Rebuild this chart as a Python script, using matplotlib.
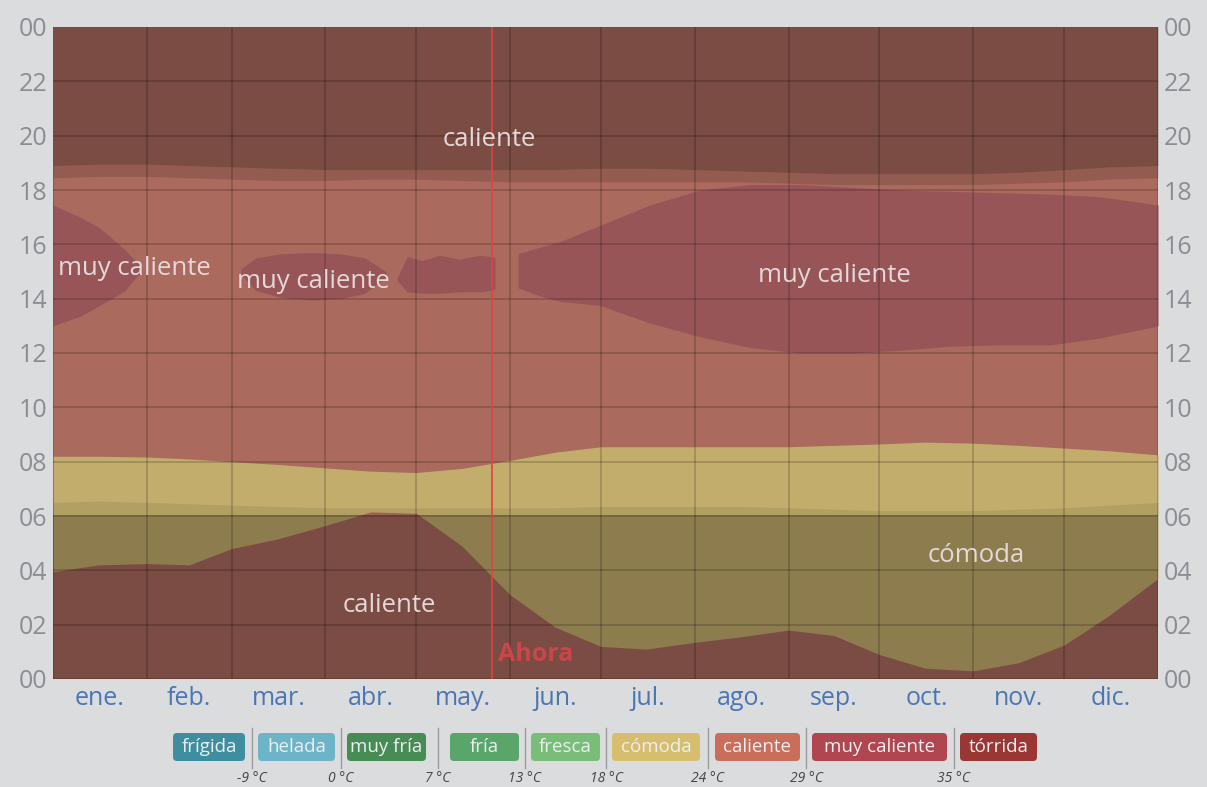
import matplotlib
matplotlib.use('Agg')
import matplotlib.pyplot as plt
from matplotlib.patches import FancyBboxPatch

plt.rcParams['font.family'] = ['Open Sans', 'DejaVu Sans']

###############################################################################################
# datos

months = ['ene.', 'feb.', 'mar.', 'abr.', 'may.', 'jun.', 'jul.', 'ago.', 'sep.', 'oct.', 'nov.', 'dic.']
month_start = [0, 31, 59, 90, 120, 151, 181, 212, 243, 273, 304, 334, 365]

# dias del año donde se leyeron los limites
band_days = [0, 15, 31, 45, 59, 74, 90, 105, 120, 135, 151, 166, 181, 196, 212, 227,
             243, 258, 273, 288, 304, 319, 334, 349, 365]

# limite caliente (madrugada) / comoda
comoda_low = [3.95, 4.2, 4.25, 4.2, 4.8, 5.15, 5.65, 6.15, 6.1, 4.9, 3.1, 1.9, 1.2, 1.1,
              1.35, 1.55, 1.8, 1.6, 0.9, 0.4, 0.3, 0.6, 1.25, 2.35, 3.7]
# limite comoda / caliente (mañana)
comoda_high = [8.2, 8.2, 8.17, 8.1, 8.0, 7.9, 7.77, 7.65, 7.6, 7.75, 8.05, 8.35, 8.55, 8.55,
               8.55, 8.55, 8.55, 8.6, 8.65, 8.72, 8.68, 8.6, 8.5, 8.4, 8.25]

# noche / crepusculo
night_end = [6.05] * 25
dawn_end = [6.5, 6.55, 6.5, 6.45, 6.4, 6.35, 6.3, 6.3, 6.3, 6.3, 6.3, 6.3, 6.35, 6.35,
            6.35, 6.35, 6.3, 6.25, 6.2, 6.2, 6.2, 6.25, 6.3, 6.4, 6.5]
dusk_start = [18.45, 18.5, 18.5, 18.45, 18.4, 18.35, 18.35, 18.4, 18.4, 18.35, 18.3, 18.3,
              18.3, 18.3, 18.3, 18.3, 18.25, 18.2, 18.2, 18.2, 18.2, 18.25, 18.3, 18.4, 18.45]
night_start = [18.9, 18.95, 18.95, 18.9, 18.85, 18.8, 18.75, 18.75, 18.75, 18.75, 18.75,
               18.75, 18.8, 18.8, 18.75, 18.7, 18.65, 18.6, 18.6, 18.6, 18.6, 18.65, 18.75,
               18.85, 18.9]

# zonas "muy caliente"
muy1_days = [0, 9, 15.5, 23.8, 29.4]
muy1_low = [13.0, 13.35, 13.75, 14.3, 15.05]
muy1_high = [17.45, 17.0, 16.6, 15.8, 15.15]

muy2_days = [62, 67, 75, 85, 95, 103, 110]
muy2_low = [14.9, 14.3, 14.05, 13.95, 14.0, 14.2, 14.8]
muy2_high = [15.1, 15.5, 15.65, 15.7, 15.65, 15.5, 15.0]

muy3_days = [113.6, 117, 122, 127.8, 134, 141, 144.4, 146]
muy3_low = [14.68, 14.25, 14.2, 14.2, 14.25, 14.25, 14.3, 14.35]
muy3_high = [14.75, 15.55, 15.4, 15.6, 15.45, 15.6, 15.55, 15.5]

muy4_days = [153.6, 160.9, 167.5, 180.7, 197.2, 213.7, 230.3, 246.8, 263.3, 279.8, 296.3,
             312.8, 329.4, 345.9, 365]
muy4_low = [14.4, 14.1, 13.9, 13.75, 13.1, 12.6, 12.2, 12.0, 12.0, 12.1, 12.25, 12.3,
            12.3, 12.55, 13.0]
muy4_high = [15.65, 15.9, 16.1, 16.7, 17.45, 18.0, 18.2, 18.2, 18.1, 18.0, 17.95, 17.9,
             17.85, 17.75, 17.45]

now_day = 145

region_labels = [
    ('caliente', 144, 19.85),
    ('muy caliente', 27, 15.1),
    ('muy caliente', 86, 14.65),
    ('muy caliente', 258, 14.85),
    ('cómoda', 305, 4.55),
    ('caliente', 111, 2.7),
]

legend_names = ['frígida', 'helada', 'muy fría', 'fría', 'fresca', 'cómoda', 'caliente',
                'muy caliente', 'tórrida']
legend_colors = ['#3E8EA0', '#6EB4C8', '#488C55', '#5AA569', '#78BE78', '#D7BE6E',
                 '#C86E5A', '#AF4650', '#9B3732']
thresholds = ['-9 °C', '0 °C', '7 °C', '13 °C', '18 °C', '24 °C', '29 °C', '35 °C']

###############################################################################################

C_CALIENTE = '#AA6A5D'
C_MUY = '#985558'
C_COMODA = '#C2AD6D'

W, H = 1207, 787
fig = plt.figure(figsize=(W / 100, H / 100), dpi=100, facecolor='#DADCDE')
ax = fig.add_axes([53 / W, 1 - 679 / H, (1158 - 53) / W, (679 - 27) / H])
ax.set_facecolor(C_CALIENTE)
ax.set_xlim(0, 365)
ax.set_ylim(0, 24)

ax.fill_between(band_days, comoda_low, comoda_high, color=C_COMODA, lw=0)
for d, lo, hi in [(muy1_days, muy1_low, muy1_high), (muy2_days, muy2_low, muy2_high),
                  (muy3_days, muy3_low, muy3_high), (muy4_days, muy4_low, muy4_high)]:
    ax.fill_between(d, lo, hi, color=C_MUY, lw=0)

# sombra de noche y crepusculo
ax.fill_between(band_days, 0, night_end, color='black', alpha=0.28, lw=0)
ax.fill_between(band_days, night_end, dawn_end, color='black', alpha=0.08, lw=0)
ax.fill_between(band_days, dusk_start, night_start, color='black', alpha=0.13, lw=0)
ax.fill_between(band_days, night_start, 24, color='black', alpha=0.28, lw=0)

ax.axvline(now_day, color='#E0443C', lw=1.2, zorder=5)
ax.text(now_day + 2, 0.9, 'Ahora', color='#D9454A', fontsize=18, fontweight='bold',
        ha='left', va='center', alpha=0.85, zorder=6)

for txt, d, h in region_labels:
    ax.text(d, h, txt, color='#E4D8D8', fontsize=18.5, ha='center', va='center', zorder=6)

ax.set_axisbelow(False)
ax.set_xticks(month_start)
ax.set_xticklabels([])
ax.set_xticks([(month_start[i] + month_start[i + 1]) / 2 for i in range(12)], minor=True)
ax.set_xticklabels(months, minor=True, color='#4A76B4', fontsize=18)
ax.set_yticks(range(0, 25, 2))
ax.set_yticklabels(['%02d' % (h % 24) for h in range(0, 25, 2)], color='#8A8E94', fontsize=18)
ax.tick_params(which='both', length=0)
ax.tick_params(axis='x', which='minor', pad=5)
ax.tick_params(axis='y', labelleft=True, labelright=True, pad=4)
ax.grid(which='major', color='black', alpha=0.17, lw=1.4)
for s in ax.spines.values():
    s.set_visible(False)

###############################################################################################
# leyenda

lax = fig.add_axes([0, 0, 1, 90 / H])
lax.set_xlim(0, W)
lax.set_ylim(H, H - 90)
lax.axis('off')

box_edges = [(173, 245), (258, 335), (347, 426), (450, 519), (531, 600), (612, 700),
             (715, 800), (812, 947), (960, 1037)]
for (x0, x1), name, col in zip(box_edges, legend_names, legend_colors):
    lax.add_patch(FancyBboxPatch((x0, 733), x1 - x0, 28, boxstyle='round,pad=0,rounding_size=4',
                                 fc=col, ec='none'))
    lax.text((x0 + x1) / 2, 747, name, color='#EAF0F0', fontsize=13.5, ha='center', va='center')

for i, t in enumerate(thresholds):
    xs = (box_edges[i][1] + box_edges[i + 1][0]) / 2
    lax.plot([xs, xs], [728, 768], color='#9A9A9A', lw=1)
    lax.text(xs, 779, t, color='#444444', fontsize=10, style='italic', ha='center', va='center')

fig.savefig('out.png', dpi=100, facecolor=fig.get_facecolor())
